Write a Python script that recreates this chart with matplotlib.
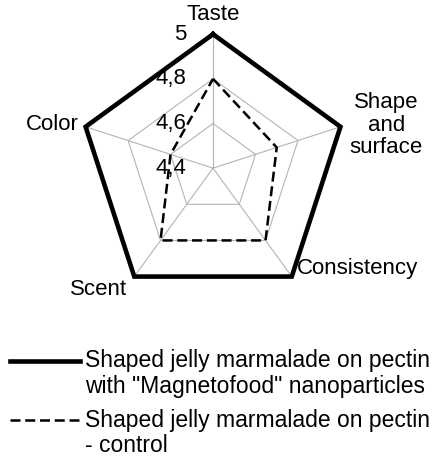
import numpy as np
import matplotlib
matplotlib.use("Agg")
import matplotlib.pyplot as plt
from matplotlib.lines import Line2D

plt.rcParams["font.family"] = ["Liberation Sans", "DejaVu Sans"]

categories = ["Taste", "Shape\nand\nsurface", "Consistency", "Scent", "Color"]
magnetofood = [5.0, 5.0, 5.0, 5.0, 5.0]
control = [4.8, 4.7, 4.8, 4.8, 4.6]
ring_values = [4.4, 4.6, 4.8, 5.0]
ring_labels = ["4,4", "4,6", "4,8", "5"]
r_min, r_max = 4.4, 5.0

label_main = ['Shaped jelly marmalade on pectin', 'with "Magnetofood" nanoparticles']
label_control = ["Shaped jelly marmalade on pectin", "- control"]

W, H = 439, 462
FS = 16

n = len(categories)
theta = np.linspace(0, 2 * np.pi, n, endpoint=False)
theta_closed = np.append(theta, theta[0])

fig = plt.figure(figsize=(W / 100, H / 100), dpi=100)
ax = fig.add_axes([0.180, 0.346, 0.6105, 0.580], projection="polar")
ax.set_theta_offset(np.pi / 2)
ax.set_theta_direction(-1)
ax.set_ylim(r_min, r_max)
ax.grid(False)
ax.spines["polar"].set_visible(False)
ax.set_xticks([])
ax.set_yticks([])
ax.patch.set_alpha(0)

# polygon grid and spokes
for v in ring_values[1:]:
    ax.plot(theta_closed, [v] * (n + 1), color="#b4b4b4", lw=0.8, zorder=1)
for t in theta:
    ax.plot([t, t], [r_min, r_max], color="#b4b4b4", lw=0.8, zorder=1)

solid_style = dict(color="black", lw=3.3, solid_joinstyle="miter")
dash_style = dict(color="black", lw=1.8, dashes=(4.0, 1.9))
ax.plot(theta_closed, magnetofood + magnetofood[:1], zorder=3, clip_on=False, **solid_style)
ax.plot(theta_closed, control + control[:1], zorder=3, clip_on=False, **dash_style)

for v, lab in zip(ring_values, ring_labels):
    ax.annotate(lab, xy=(0, v), xytext=(-19.5, 0), textcoords="offset points",
                ha="right", va="center", fontsize=FS, annotation_clip=False)

# category labels around the outer ring
offsets = [(0, 14, "center", "center"),
           (33, 1, "center", "center"),
           (4, 6, "left", "center"),
           (-5, -9, "right", "center"),
           (-5, 1.5, "right", "center")]
for t, lab, (dx, dy, ha, va) in zip(theta, categories, offsets):
    ax.annotate(lab, xy=(t, r_max), xytext=(dx, dy), textcoords="offset points",
                ha=ha, va=va, fontsize=FS, annotation_clip=False,
                multialignment="center", linespacing=1.1)

# legend: sample line next to the first text line of each entry
legend_rows = [(361, 386, solid_style, label_main),
               (420, 445, dash_style, label_control)]
for y1, y2, style, lines in legend_rows:
    fig.add_artist(Line2D([10 / W, 80 / W], [1 - y1 / H] * 2, **style))
    for y, txt in zip((y1, y2), lines):
        fig.text(85 / W, 1 - y / H, txt, ha="left", va="center", fontsize=16.5)

fig.savefig("out.png", dpi=100)
